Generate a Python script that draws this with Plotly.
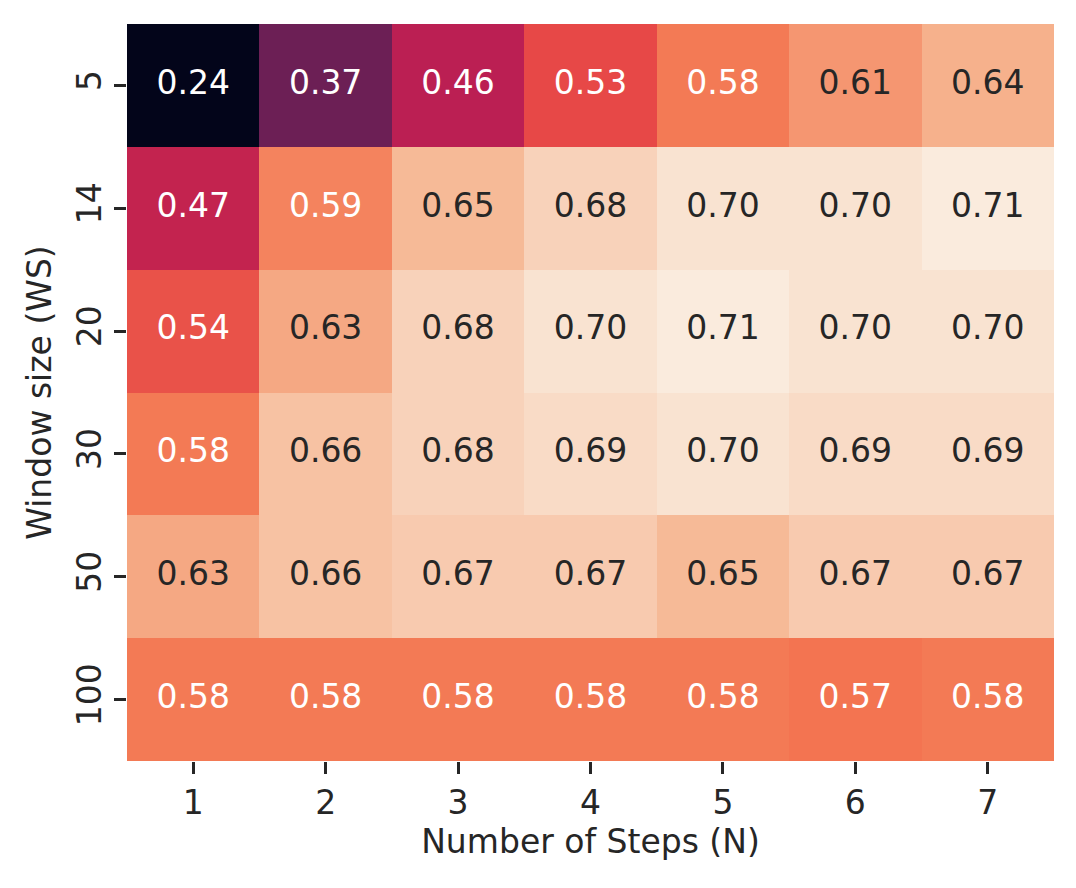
import plotly.graph_objects as go

steps = ["1", "2", "3", "4", "5", "6", "7"]
window_sizes = ["5", "14", "20", "30", "50", "100"]
values = [
    [0.24, 0.37, 0.46, 0.53, 0.58, 0.61, 0.64],
    [0.47, 0.59, 0.65, 0.68, 0.70, 0.70, 0.71],
    [0.54, 0.63, 0.68, 0.70, 0.71, 0.70, 0.70],
    [0.58, 0.66, 0.68, 0.69, 0.70, 0.69, 0.69],
    [0.63, 0.66, 0.67, 0.67, 0.65, 0.67, 0.67],
    [0.58, 0.58, 0.58, 0.58, 0.58, 0.574, 0.58],
]

rocket = [
    [0.0, "#03051A"],
    [1/7, "#35193E"],
    [2/7, "#701F57"],
    [3/7, "#AD1759"],
    [4/7, "#E13342"],
    [5/7, "#F37651"],
    [6/7, "#F6B48F"],
    [1.0, "#FAEBDD"],
]

FONT = "DejaVu Sans"
FS = 33

fig = go.Figure()
fig.add_trace(go.Heatmap(
    x=steps, y=window_sizes, z=values,
    colorscale=rocket, zmin=0.24, zmax=0.71,
    showscale=False, xgap=0, ygap=0, hoverinfo="skip",
))

tx, ty, tt, tc = [], [], [], []
for i, ws in enumerate(window_sizes):
    for j, st in enumerate(steps):
        v = values[i][j]
        tx.append(st)
        ty.append(ws)
        tt.append(f"{v:.2f}")
        tc.append("white" if v <= 0.59 else "#262626")

fig.add_trace(go.Scatter(
    x=tx, y=ty, text=tt, mode="text",
    textfont=dict(family=FONT, size=FS, color=tc),
    textposition="middle center", hoverinfo="skip", showlegend=False,
))

fig.update_layout(
    width=1068, height=880,
    margin=dict(l=119, r=22, t=16, b=127),
    paper_bgcolor="white", plot_bgcolor="white",
    font=dict(family=FONT, size=FS, color="#262626"),
    showlegend=False,
)
fig.update_xaxes(
    type="category", range=[-0.5, 6.5], showgrid=False, zeroline=False,
    ticks="outside", ticklen=12, tickwidth=2.5, tickcolor="#262626",
    tickfont=dict(family=FONT, size=FS, color="#262626"),
    title=dict(text="Number of Steps (N)", standoff=8,
               font=dict(family=FONT, size=FS, color="#262626")),
    showline=False,
)
fig.update_yaxes(
    type="category", range=[5.5, -0.5], showgrid=False, zeroline=False,
    ticks="outside", ticklen=12, tickwidth=2.5, tickcolor="#262626",
    tickangle=-90,
    tickfont=dict(family=FONT, size=FS, color="#262626"),
    title=dict(text="Window size (WS)", standoff=8,
               font=dict(family=FONT, size=FS, color="#262626")),
    showline=False,
)

fig.write_html("out.html")
